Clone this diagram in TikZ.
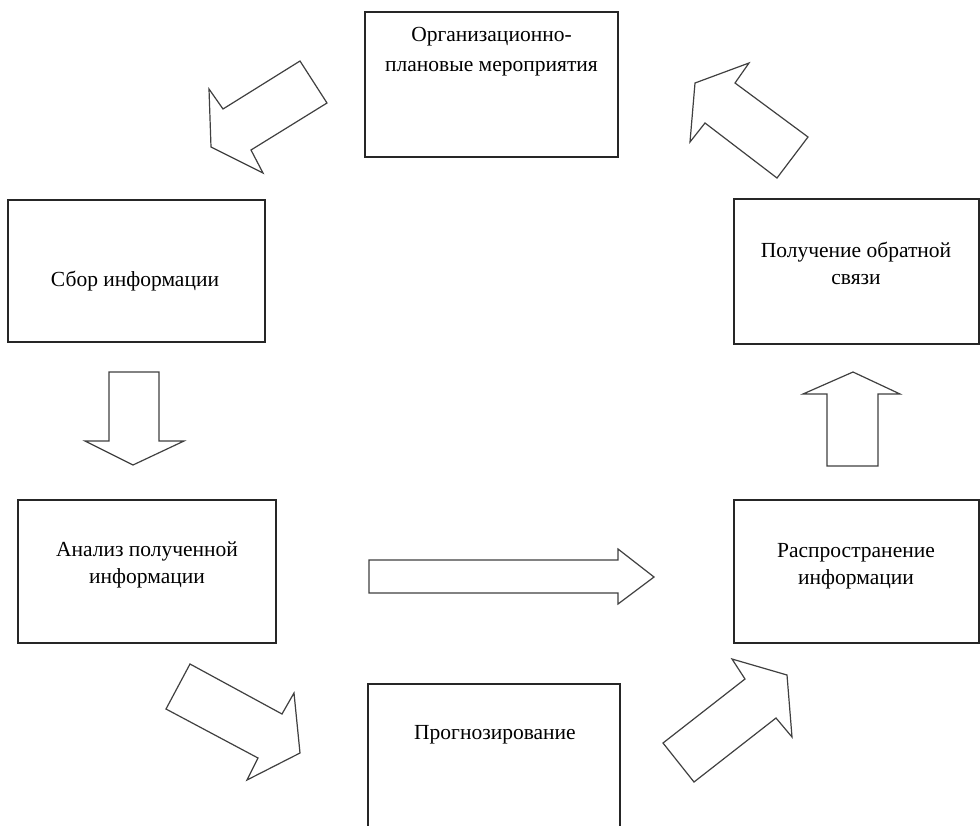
\documentclass[tikz,border=0pt]{standalone}
\usepackage{fontspec}
\setmainfont{Liberation Serif}
\begin{document}
\begin{tikzpicture}[x=1pt,y=-1pt,
  box/.style={draw=black!85,line width=1.3pt,fill=white,inner sep=0pt,outer sep=0pt,anchor=north west},
  lbl/.style={align=center,font=\fontsize{21.5}{27}\selectfont,inner sep=0pt},
  blockarrow/.style={draw=black!75,line width=1.2pt,fill=white,line join=miter}]
\clip (0,0) rectangle (980,825);
\fill[white] (0,0) rectangle (980,825);
% boxes
\node[box,minimum width=253pt,minimum height=145pt] (b1) at (365,12) {};
\node[box,minimum width=257pt,minimum height=142pt] (b2) at (8,200) {};
\node[box,minimum width=258pt,minimum height=143pt] (b3) at (18,500) {};
\node[box,minimum width=252pt,minimum height=170pt] (b4) at (368,684) {};
\node[box,minimum width=245pt,minimum height=143pt] (b5) at (734,500) {};
\node[box,minimum width=245pt,minimum height=145pt] (b6) at (734,199) {};
% labels
\node[lbl,font=\fontsize{21.5}{30}\selectfont] (t1) at (491.5,52) {Организационно-\\плановые мероприятия};
\node[lbl] (t2) at (135,281) {Сбор информации};
\node[lbl] (t3) at (147,564.5) {Анализ полученной\\информации};
\node[lbl] (t4) at (495,735) {Прогнозирование};
\node[lbl] (t5) at (856,566) {Распространение\\информации};
\node[lbl] (t6) at (856,263) {Получение обратной\\связи};
% block arrows
\draw[blockarrow] (300,61) -- (327,103) -- (251,150) -- (263,173) -- (211,147) -- (209,89) -- (223,109) -- cycle;
\draw[blockarrow] (749,63) -- (735,83) -- (808,137) -- (777,178) -- (705,123) -- (690,142) -- (695,83) -- cycle;
\draw[blockarrow] (109,372) -- (159,372) -- (159,441) -- (184,441) -- (133,465) -- (85,441) -- (109,441) -- cycle;
\draw[blockarrow] (853,372) -- (900,394) -- (878,394) -- (878,466) -- (827,466) -- (827,394) -- (803,394) -- cycle;
\draw[blockarrow] (369,560) -- (618,560) -- (618,549) -- (654,577) -- (618,604) -- (618,593) -- (369,593) -- cycle;
\draw[blockarrow] (190,664) -- (282,714) -- (294,693) -- (300,753) -- (247,780) -- (258,758) -- (166,709) -- cycle;
\draw[blockarrow] (663,743) -- (745,679) -- (732,659) -- (787,675) -- (792,737) -- (776,718) -- (694,782) -- cycle;
\end{tikzpicture}
\end{document}
